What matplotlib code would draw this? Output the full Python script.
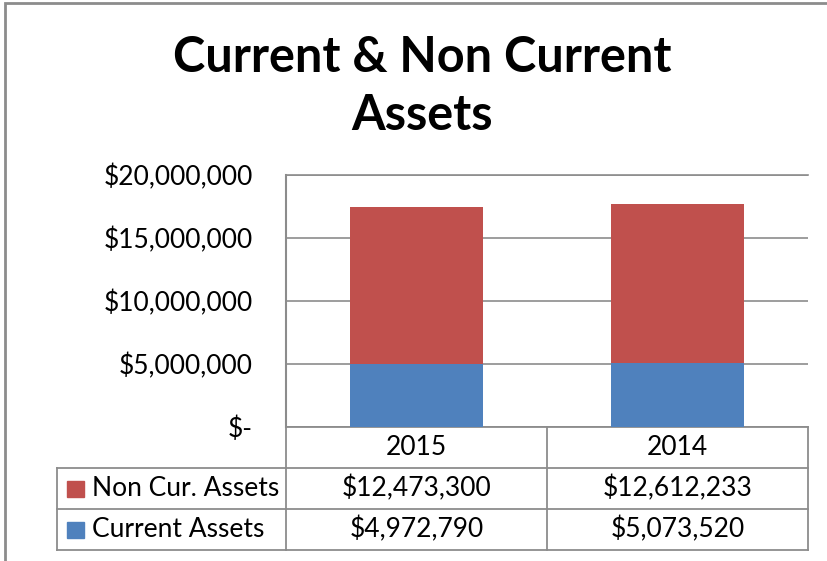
import matplotlib
matplotlib.use("Agg")
import matplotlib.pyplot as plt
from matplotlib.patches import Rectangle
from matplotlib.transforms import blended_transform_factory
from matplotlib.ticker import FuncFormatter

years = ["2015", "2014"]
series_names = ["Non Cur. Assets", "Current Assets"]
current_assets = [4972790, 5073520]
non_current_assets = [12473300, 12612233]
y_ticks = [0, 5000000, 10000000, 15000000, 20000000]

RED = "#C0504D"
BLUE = "#4F81BD"
GRID = "#8C8C8C"
FONT = "Lato"
FS = 19

W, H = 828, 561
fig = plt.figure(figsize=(W / 100, H / 100), dpi=100)

# outer chart border
fig.patches.append(Rectangle((5 / W, -0.1), 1.2, 1 - 3 / H + 0.1, transform=fig.transFigure,
                             fill=False, edgecolor="#8C8C8C", linewidth=2))

left, right, top, bottom = 286, 808, 175, 427
ax = fig.add_axes([left / W, 1 - bottom / H, (right - left) / W, (bottom - top) / H])

x = list(range(len(years)))
ax.bar(x, current_assets, width=0.51, color=BLUE, zorder=3)
ax.bar(x, non_current_assets, width=0.51, bottom=current_assets, color=RED, zorder=3)

ax.set_xlim(-0.5, len(years) - 0.5)
ax.set_ylim(0, 20000000)
ax.set_yticks(y_ticks)
ax.yaxis.set_major_formatter(FuncFormatter(lambda v, p: "$-" if v == 0 else f"${v:,.0f}"))
ax.tick_params(axis="y", length=0, pad=24, labelsize=FS)
for lab in ax.get_yticklabels():
    lab.set_fontfamily(FONT)
ax.set_xticks([])
ax.grid(axis="y", color=GRID, linewidth=1.2, zorder=0)
for s in ["right", "bottom"]:
    ax.spines[s].set_visible(False)
ax.spines["left"].set_color(GRID)
ax.spines["left"].set_linewidth(1.5)
ax.spines["top"].set_color(GRID)
ax.spines["top"].set_linewidth(1.2)

fig.text(0.51, 1 - 58 / H, "Current & Non Current", ha="center", va="center",
         fontsize=35, fontweight="bold", family=FONT)
fig.text(0.51, 1 - 115 / H, "Assets", ha="center", va="center",
         fontsize=35, fontweight="bold", family=FONT)

# data table below the plot
tr = blended_transform_factory(ax.transData, ax.transAxes)
row_h = 41 / (bottom - top)
n = len(years)
lw = 1.3
ys = [0, -row_h, -2 * row_h, -3 * row_h]
ax.plot([-0.5, n - 0.5], [ys[0], ys[0]], transform=tr, color=GRID, lw=lw, clip_on=False)
for i, yv in enumerate(ys[1:]):
    ax.plot([-0.5, n - 0.5], [yv, yv], transform=tr, color=GRID, lw=lw, clip_on=False)
    fig.add_artist(plt.Line2D([57 / W, left / W], [1 - (bottom + 41 * (i + 1)) / H] * 2,
                              color=GRID, lw=lw))
for xb in [k - 0.5 for k in range(n + 1)]:
    ax.plot([xb, xb], [ys[0], ys[3]], transform=tr, color=GRID, lw=lw, clip_on=False)
fig.add_artist(plt.Line2D([57 / W, 57 / W], [1 - (bottom + 41) / H, 1 - (bottom + 123) / H],
                          color=GRID, lw=lw))

for i, yr in enumerate(years):
    ax.text(i, (ys[0] + ys[1]) / 2, yr, transform=tr, ha="center", va="center",
            fontsize=FS, family=FONT)
    ax.text(i, (ys[1] + ys[2]) / 2, f"${non_current_assets[i]:,}", transform=tr,
            ha="center", va="center", fontsize=FS, family=FONT)
    ax.text(i, (ys[2] + ys[3]) / 2, f"${current_assets[i]:,}", transform=tr,
            ha="center", va="center", fontsize=FS, family=FONT)

for j, (name, col) in enumerate(zip(series_names, [RED, BLUE])):
    yc = bottom + 41 * (j + 1) + 20.5
    fig.patches.append(Rectangle((67 / W, 1 - (yc + 8) / H), 17 / W, 16 / H,
                                 transform=fig.transFigure, color=col))
    fig.text(92 / W, 1 - yc / H, name, ha="left", va="center", fontsize=FS, family=FONT)

fig.savefig("out.png", dpi=100)
